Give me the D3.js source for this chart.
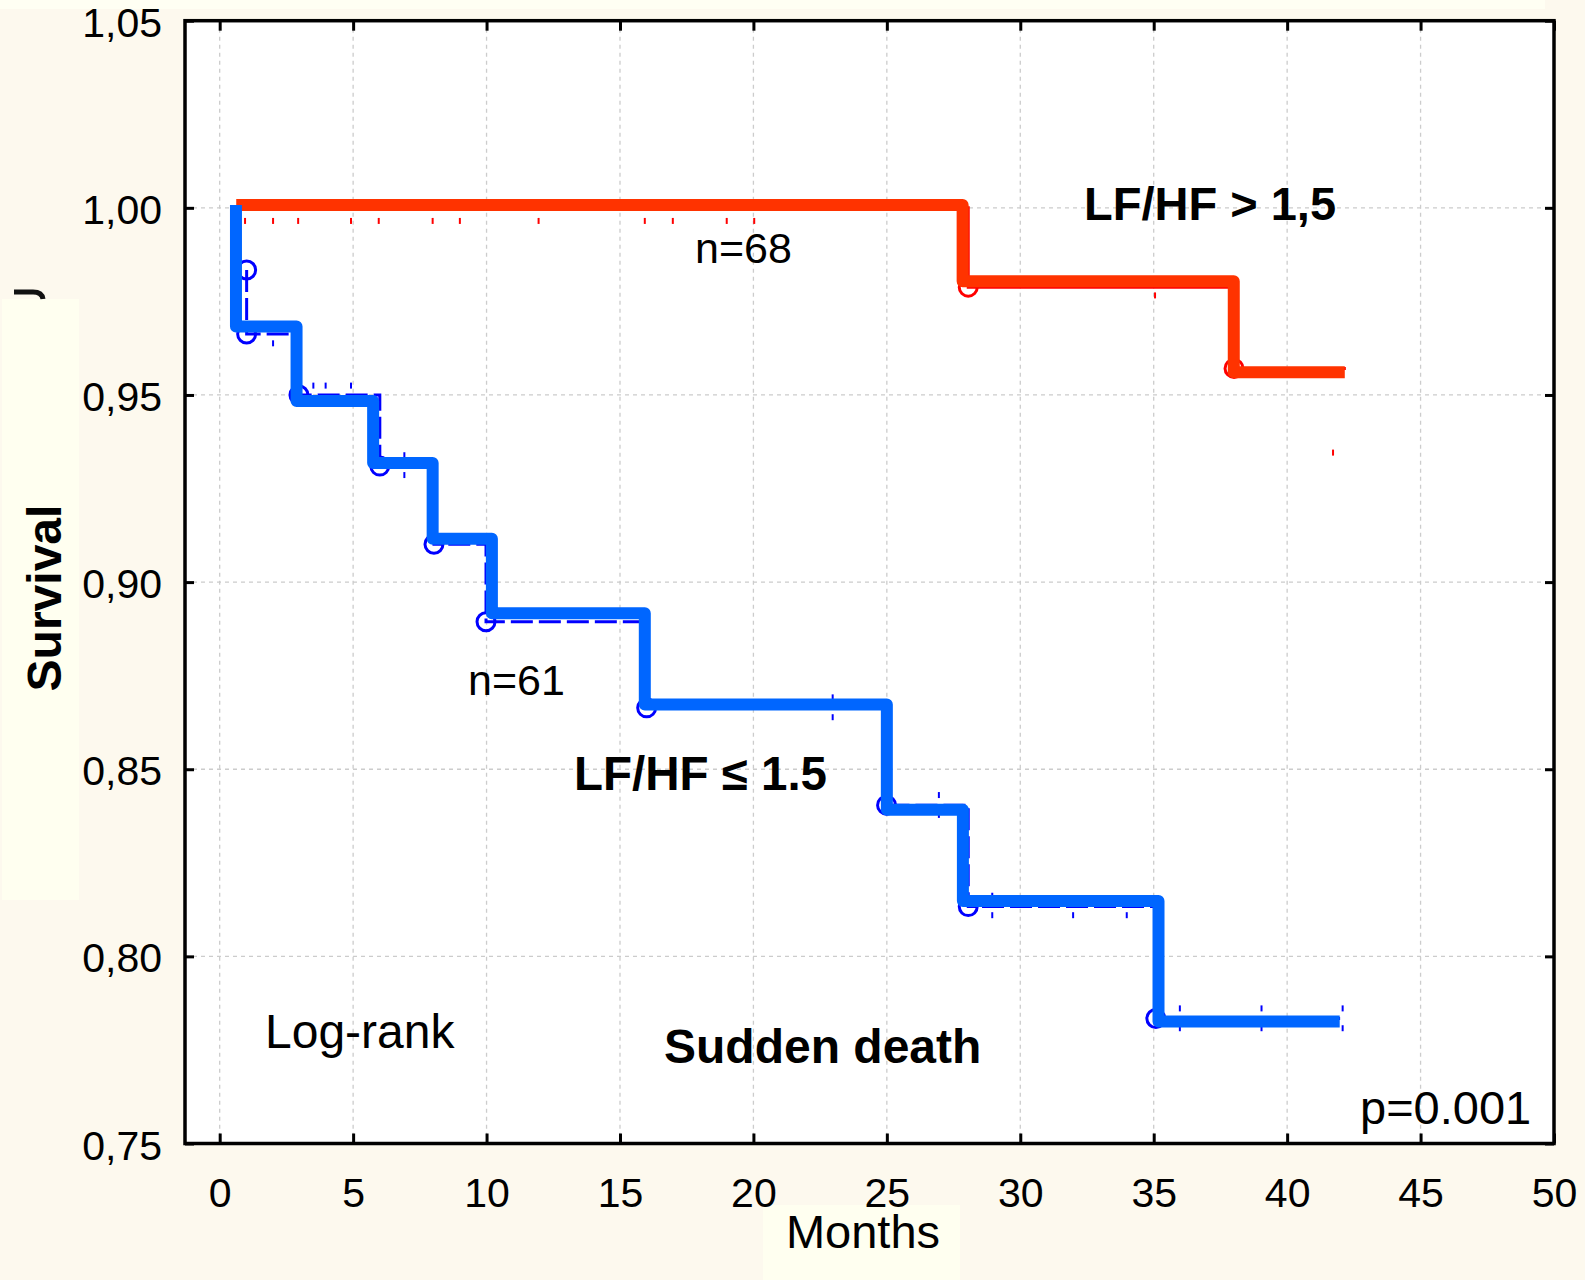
<!DOCTYPE html>
<html>
<head>
<meta charset="utf-8">
<script src="https://cdn.jsdelivr.net/npm/d3@7"></script>
<style>
  body { margin: 0; background: #fdf9ee; }
  svg { display: block; }
  text { font-family: "Liberation Sans", Arial, sans-serif; fill: #000; }
</style>
</head>
<body>
<div id="chart"></div>
<script>
const xTicks = [0, 5, 10, 15, 20, 25, 30, 35, 40, 45, 50];
const yTicks = [0.75, 0.8, 0.85, 0.9, 0.95, 1.0, 1.05];

// thick curves: start point, drop times, level after each drop, end of follow-up
const lowStart = [0.61, 1.00075];
const lowTimes = [0.61, 2.88, 5.75, 7.98, 10.2, 15.93, 25.0, 27.85, 35.18];
const lowLevels = [0.9683, 0.9484, 0.9318, 0.9116, 0.8917, 0.8673, 0.8392, 0.8148, 0.7826];
const lowEnd = 41.97;

const highStart = [0.62, 1.00075];
const highTimes = [27.84, 38.0];
const highLevels = [0.9804, 0.9561];
const highEnd = 42.16;

// thin curves, open circle at each event
const lowEvents = [[1.01, 0.9834], [1.01, 0.9663], [2.97, 0.95], [6.0, 0.931], [8.03, 0.9101],
  [9.98, 0.8894], [16.0, 0.8664], [24.99, 0.8404], [28.05, 0.8133], [35.08, 0.7834]];
const lowThinEnd = 42.2;

const highThinStart = [0.62, 1.0];
const highEvents = [[28.05, 0.9788], [38.01, 0.9571]];
const highThinEnd = 42.2;

// censor marks (month, survival)
const lowCensor = [[2.0, 0.9638], [3.51, 0.9525], [3.97, 0.9525], [4.92, 0.9525], [6.92, 0.9339],
  [6.92, 0.9286], [22.97, 0.8692], [22.97, 0.8639], [26.95, 0.8431], [26.95, 0.8378],
  [28.95, 0.8162], [28.95, 0.811], [31.98, 0.811], [33.99, 0.811], [35.98, 0.7861],
  [35.98, 0.7808], [39.04, 0.7861], [39.04, 0.7808], [42.08, 0.7861], [42.08, 0.7808]];
const highCensor = [[0.95, 0.9965], [2.0, 0.9965], [2.94, 0.9965], [4.92, 0.9965], [5.96, 0.9965],
  [7.98, 0.9965], [9.0, 0.9965], [11.95, 0.9965], [15.93, 0.9965], [16.98, 0.9965],
  [19.0, 0.9965], [20.03, 0.9965], [35.05, 0.9766], [41.72, 0.9346]];

const W = 1585, H = 1280;
const x = d3.scaleLinear().domain([-1.3, 50]).range([185, 1554]);
const y = d3.scaleLinear().domain([0.75, 1.05]).range([1143.5, 20.7]);
const fmt = d3.formatLocale({ decimal: ",", thousands: ".", grouping: [3], currency: ["", ""] }).format(".2f");

const svg = d3.select("#chart").append("svg").attr("width", W).attr("height", H);

// backgrounds
svg.append("rect").attr("width", W).attr("height", H).attr("fill", "#fdf9ee");
svg.append("rect").attr("x", 0).attr("y", 0).attr("width", 1545).attr("height", 9).attr("fill", "#fffff3");
svg.append("rect").attr("x", 2).attr("y", 299).attr("width", 77).attr("height", 601).attr("fill", "#fffff0");
svg.append("rect").attr("x", 763).attr("y", 1205).attr("width", 197).attr("height", 75).attr("fill", "#fffff0");
svg.append("rect")
  .attr("x", x.range()[0]).attr("y", y.range()[1])
  .attr("width", x.range()[1] - x.range()[0]).attr("height", y.range()[0] - y.range()[1])
  .attr("fill", "#fff");

// stray glyph fragment above the y label box
svg.append("path").attr("d", "M14,292 L33,292 Q42,292 43,299")
  .attr("fill", "none").attr("stroke", "#111").attr("stroke-width", 5);

// grid
const grid = svg.append("g").attr("stroke", "#cccccc").attr("stroke-width", 1.3).attr("stroke-dasharray", "4,4");
grid.selectAll("line.v").data(xTicks.slice(0, -1)).join("line")
  .attr("x1", d => x(d)).attr("x2", d => x(d))
  .attr("y1", y.range()[1]).attr("y2", y.range()[0]);
grid.selectAll("line.h").data(yTicks.slice(1, -1)).join("line")
  .attr("y1", d => y(d)).attr("y2", d => y(d))
  .attr("x1", x.range()[0]).attr("x2", x.range()[1]);

// axes with inward ticks on all four sides
const styleAxis = g => {
  g.select(".domain").remove();
  g.selectAll(".tick line").attr("stroke", "#000").attr("stroke-width", 3);
  g.selectAll(".tick text").style("font-size", "41px").attr("fill", "#000");
};
svg.append("g").attr("transform", `translate(0,${y.range()[0]})`)
  .call(d3.axisBottom(x).tickValues(xTicks).tickSize(-10).tickPadding(34))
  .call(styleAxis);
svg.append("g").attr("transform", `translate(0,${y.range()[1]})`)
  .call(d3.axisTop(x).tickValues(xTicks).tickSize(-10).tickFormat(""))
  .call(styleAxis);
svg.append("g").attr("transform", `translate(${x.range()[0]},0)`)
  .call(d3.axisLeft(y).tickValues(yTicks).tickSize(-9).tickPadding(23).tickFormat(fmt))
  .call(styleAxis)
  .call(g => g.selectAll(".tick text").attr("dy", "0.38em"));
svg.append("g").attr("transform", `translate(${x.range()[1]},0)`)
  .call(d3.axisRight(y).tickValues(yTicks).tickSize(-9).tickFormat(""))
  .call(styleAxis);

// frame
svg.append("rect")
  .attr("x", x.range()[0]).attr("y", y.range()[1])
  .attr("width", x.range()[1] - x.range()[0]).attr("height", y.range()[0] - y.range()[1])
  .attr("fill", "none").attr("stroke", "#000").attr("stroke-width", 3.5);

const step = d3.line().x(d => x(d[0])).y(d => y(d[1])).curve(d3.curveStepAfter);

// thin curves
const lastLevel = ev => ev[ev.length - 1][1];
svg.append("path").datum([...lowEvents, [lowThinEnd, lastLevel(lowEvents)]])
  .attr("d", step).attr("fill", "none").attr("stroke", "#0000ff")
  .attr("stroke-width", 3).attr("stroke-dasharray", "22,6");
svg.append("path").datum([highThinStart, ...highEvents, [highThinEnd, lastLevel(highEvents)]])
  .attr("d", step).attr("fill", "none").attr("stroke", "#ff0000").attr("stroke-width", 3);

// censor marks
const marks = (data, color) => svg.append("g").selectAll("line").data(data).join("line")
  .attr("x1", d => x(d[0])).attr("x2", d => x(d[0]))
  .attr("y1", d => y(d[1]) - 3).attr("y2", d => y(d[1]) + 3)
  .attr("stroke", color).attr("stroke-width", 2);
marks(lowCensor, "#0000ff");
marks(highCensor, "#ff0000");

// event circles
const circles = (data, color) => svg.append("g").selectAll("circle").data(data).join("circle")
  .attr("cx", d => x(d[0])).attr("cy", d => y(d[1])).attr("r", 9)
  .attr("fill", "none").attr("stroke", color).attr("stroke-width", 3);
circles(lowEvents, "#0000ff");
circles(highEvents, "#ff0000");

// thick curves
const thickPts = (start, times, levels, end) =>
  [start, ...times.map((t, i) => [t, levels[i]]), [end, levels[levels.length - 1]]];
svg.append("path").datum(thickPts(highStart, highTimes, highLevels, highEnd))
  .attr("d", step).attr("fill", "none").attr("stroke", "#ff3300")
  .attr("stroke-width", 12).attr("stroke-linejoin", "round");
svg.append("path").datum(thickPts(lowStart, lowTimes, lowLevels, lowEnd))
  .attr("d", step).attr("fill", "none").attr("stroke", "#0066ff")
  .attr("stroke-width", 12).attr("stroke-linejoin", "round");

// annotations
const note = (txt, px, py, size, bold, anchor) => svg.append("text")
  .attr("x", px).attr("y", py).attr("text-anchor", anchor || "start")
  .style("font-size", size + "px").style("font-weight", bold ? "bold" : "normal").text(txt);
note("LF/HF > 1,5", 1084, 220, 47, true);
note("n=68", 695, 263, 43, false);
note("n=61", 468, 695, 43, false);
note("LF/HF \u2264 1.5", 574, 790, 47.5, true);
note("Log-rank", 265, 1048, 48, false);
note("Sudden death", 664, 1063, 48, true);
note("p=0.001", 1360, 1124, 47, false);
note("Months", 863, 1248, 47, false, "middle");
svg.append("text").attr("transform", "translate(61,598) rotate(-90)")
  .attr("text-anchor", "middle").style("font-size", "48px").style("font-weight", "bold")
  .text("Survival");
</script>
</body>
</html>
